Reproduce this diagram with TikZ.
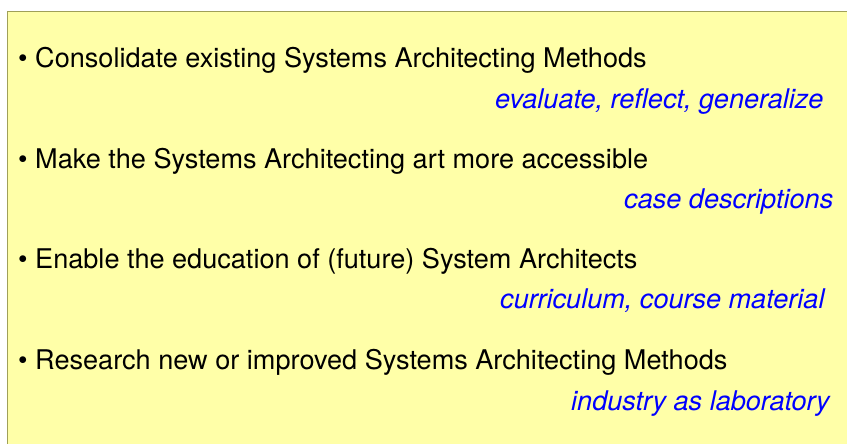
\documentclass[tikz,border=0pt]{standalone}
\usepackage{fontspec}
\setmainfont{TeX Gyre Heros}
\definecolor{panelfill}{HTML}{FFFFA8}
\definecolor{panelline}{HTML}{A0A058}
\definecolor{noteblue}{HTML}{0000FF}
\tikzset{
  point/.style={anchor=base west, inner sep=0pt, font=\fontsize{27.2}{32}\selectfont, text=black},
  note/.style={anchor=base west, inner sep=0pt, font=\fontsize{27.2}{32}\selectfont\itshape, text=noteblue},
}
\begin{document}
\begin{tikzpicture}[x=1bp,y=-1bp]
\useasboundingbox (0,0) rectangle (847,444);
\fill[white] (0,0) rectangle (847,444);
\draw[panelline, line width=1.5bp, fill=panelfill] (7.5,11.5) rectangle (860,460);
\node[point] (p1) at (18,68) {• Consolidate existing Systems Architecting Methods};
\node[note] (n1) at (495,109) {evaluate, reflect, generalize};
\node[point] (p2) at (18,169) {• Make the Systems Architecting art more accessible};
\node[note] (n2) at (624,209) {case descriptions};
\node[point] (p3) at (18,269) {• Enable the education of (future) System Architects};
\node[note] (n3) at (500,309) {curriculum, course material};
\node[point] (p4) at (18,370) {• Research new or improved Systems Architecting Methods};
\node[note] (n4) at (571,410) {industry as laboratory};
\end{tikzpicture}
\end{document}
